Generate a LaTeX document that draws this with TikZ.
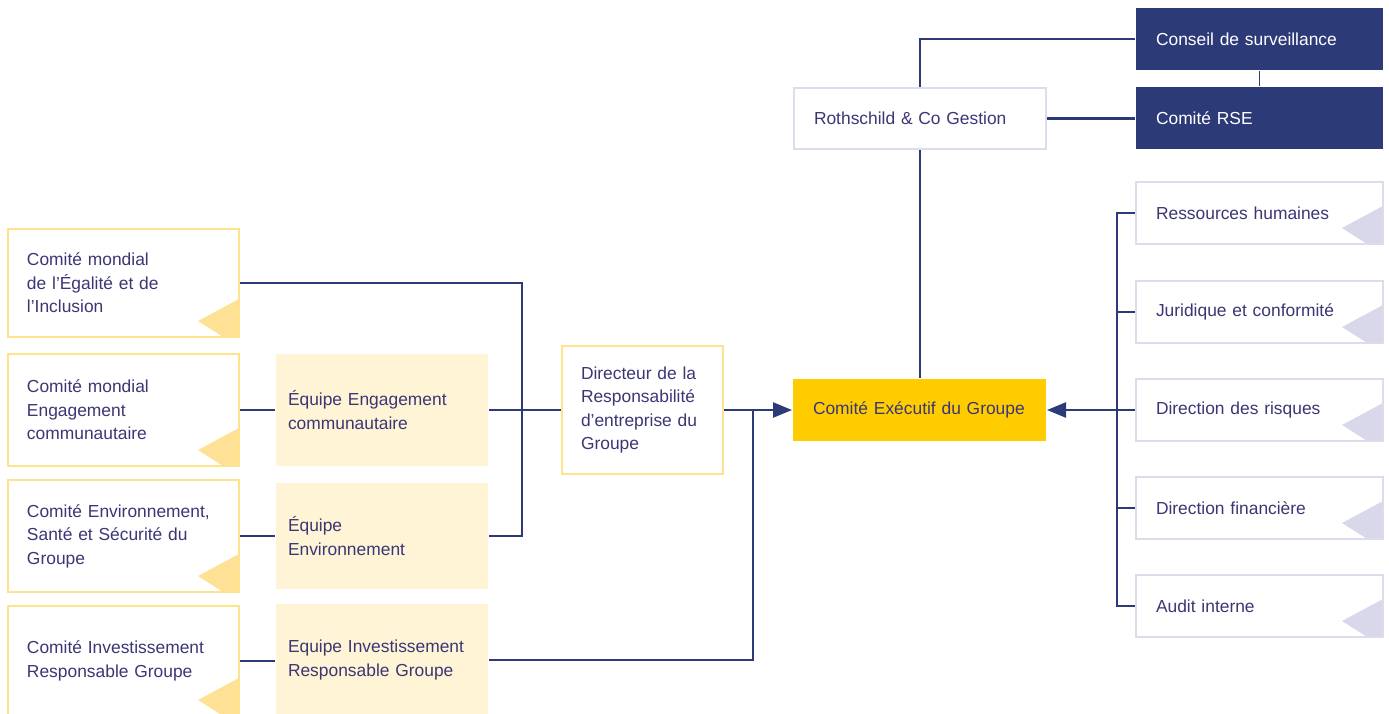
\documentclass[tikz,border=0pt]{standalone}
\usepackage{fontspec}
\setmainfont{Liberation Sans}
\usetikzlibrary{arrows.meta}

\definecolor{navy}{HTML}{2C3A78}
\definecolor{txt}{HTML}{3B3775}
\definecolor{gold}{HTML}{FFCC00}
\definecolor{paleyellow}{HTML}{FFF4D6}
\definecolor{lineyellow}{HTML}{FFE38C}
\definecolor{triyellow}{HTML}{FFE196}
\definecolor{linelav}{HTML}{DCDCEC}
\definecolor{trilav}{HTML}{D8D8EA}

\tikzset{
  box/.style={anchor=north west, align=left, inner ysep=0pt, inner xsep=20pt,
    line width=2pt, text=txt, font=\fontsize{17.4}{23.5}\selectfont},
  corner/.style={path picture={\fill[#1]
    ([yshift=38pt]path picture bounding box.south east) --
    ([xshift=-41pt,yshift=16pt]path picture bounding box.south east) --
    ([yshift=-10pt]path picture bounding box.south east) -- cycle ;}},
  comite/.style={box, draw=lineyellow, fill=white, corner=triyellow, inner xsep=19pt,
    text width=193pt, minimum height=#1},
  equipe/.style={box, fill=paleyellow, inner xsep=12pt, text width=188pt, minimum height=#1},
  service/.style={box, draw=linelav, fill=white, corner=trilav, text width=207pt,
    minimum height=62pt},
  board/.style={box, fill=navy, text=white, text width=207pt, minimum height=62pt},
  link/.style={draw=navy, line width=2.4pt},
  arrow/.style={link, -{Triangle[length=19pt,width=15pt]}}
}

\begin{document}
\begin{tikzpicture}[x=1pt,y=-1pt]

\useasboundingbox (0,0) rectangle (1389,713) ;

\node[comite=108pt] (egal) at (7,228) {Comité mondial\\de l’Égalité et de\\l’Inclusion} ;
\node[comite=112pt] (engc) at (7,353) {Comité mondial\\Engagement\\communautaire} ;
\node[comite=112pt] (envc) at (7,479) {Comité Environnement,\\Santé et Sécurité du\\Groupe} ;
\node[comite=110pt] (invc) at (7,605) {Comité Investissement\\Responsable Groupe} ;

\node[equipe=112pt] (enge) at (275,353) {Équipe Engagement\\communautaire} ;
\node[equipe=106pt] (enve) at (275,482) {Équipe\\Environnement} ;
\node[equipe=112pt] (inve) at (275,603) {Equipe Investissement\\Responsable Groupe} ;

\node[box, draw=lineyellow, fill=white, inner xsep=19pt, text width=123pt,
  minimum height=128pt] (dir) at (561,345) {Directeur de la\\Responsabilité\\d’entreprise du\\Groupe} ;

\node[box, fill=gold, text width=213pt, minimum height=62pt] (exec) at (792,378) {Comité Exécutif du Groupe} ;
\node[box, draw=linelav, fill=white, text width=212pt, minimum height=61pt] (roth) at (793,87) {Rothschild \& Co Gestion} ;

\node[board] (cons) at (1135,7) {Conseil de surveillance} ;
\node[board] (rse) at (1135,86) {Comité RSE} ;

\node[service] (rh) at (1135,181) {Ressources humaines} ;
\node[service] (jur) at (1135,280) {Juridique et conformité} ;
\node[service] (risk) at (1135,378) {Direction des risques} ;
\node[service] (fin) at (1135,476) {Direction financière} ;
\node[service] (audit) at (1135,574) {Audit interne} ;

\coordinate (busl) at (522,409) ;
\coordinate (busm) at (753,409) ;
\coordinate (busr) at (1117,409) ;

\draw[link] (egal.east) -| (busl) |- (enve.east) ;
\draw[link] (engc.east) -- (enge.west) ;
\draw[link] (envc.east) -- (enve.west) ;
\draw[link] (invc.east) -- (invc.east -| inve.west) ;
\draw[link] (enge.east) -- (dir.west) ;
\draw[link] (inve.east) -| (busm) ;
\draw[arrow] (dir.east) -- (exec.west) ;

\draw[link] (rh.west) -- (rh.west -| busr) -- (audit.west -| busr) -- (audit.west) ;
\draw[link] (jur.west) -- (jur.west -| busr) ;
\draw[link] (fin.west) -- (fin.west -| busr) ;
\draw[arrow] (risk.west) -- (exec.east) ;

\draw[link] (roth.south) -- (roth.south |- exec.north) ;
\draw[link] (roth.north) |- (cons.west) ;
\draw[link] (roth.east) -- (roth.east -| rse.west) ;
\draw[link, line width=1.6pt] (cons.south) -- (rse.north) ;

\end{tikzpicture}
\end{document}
